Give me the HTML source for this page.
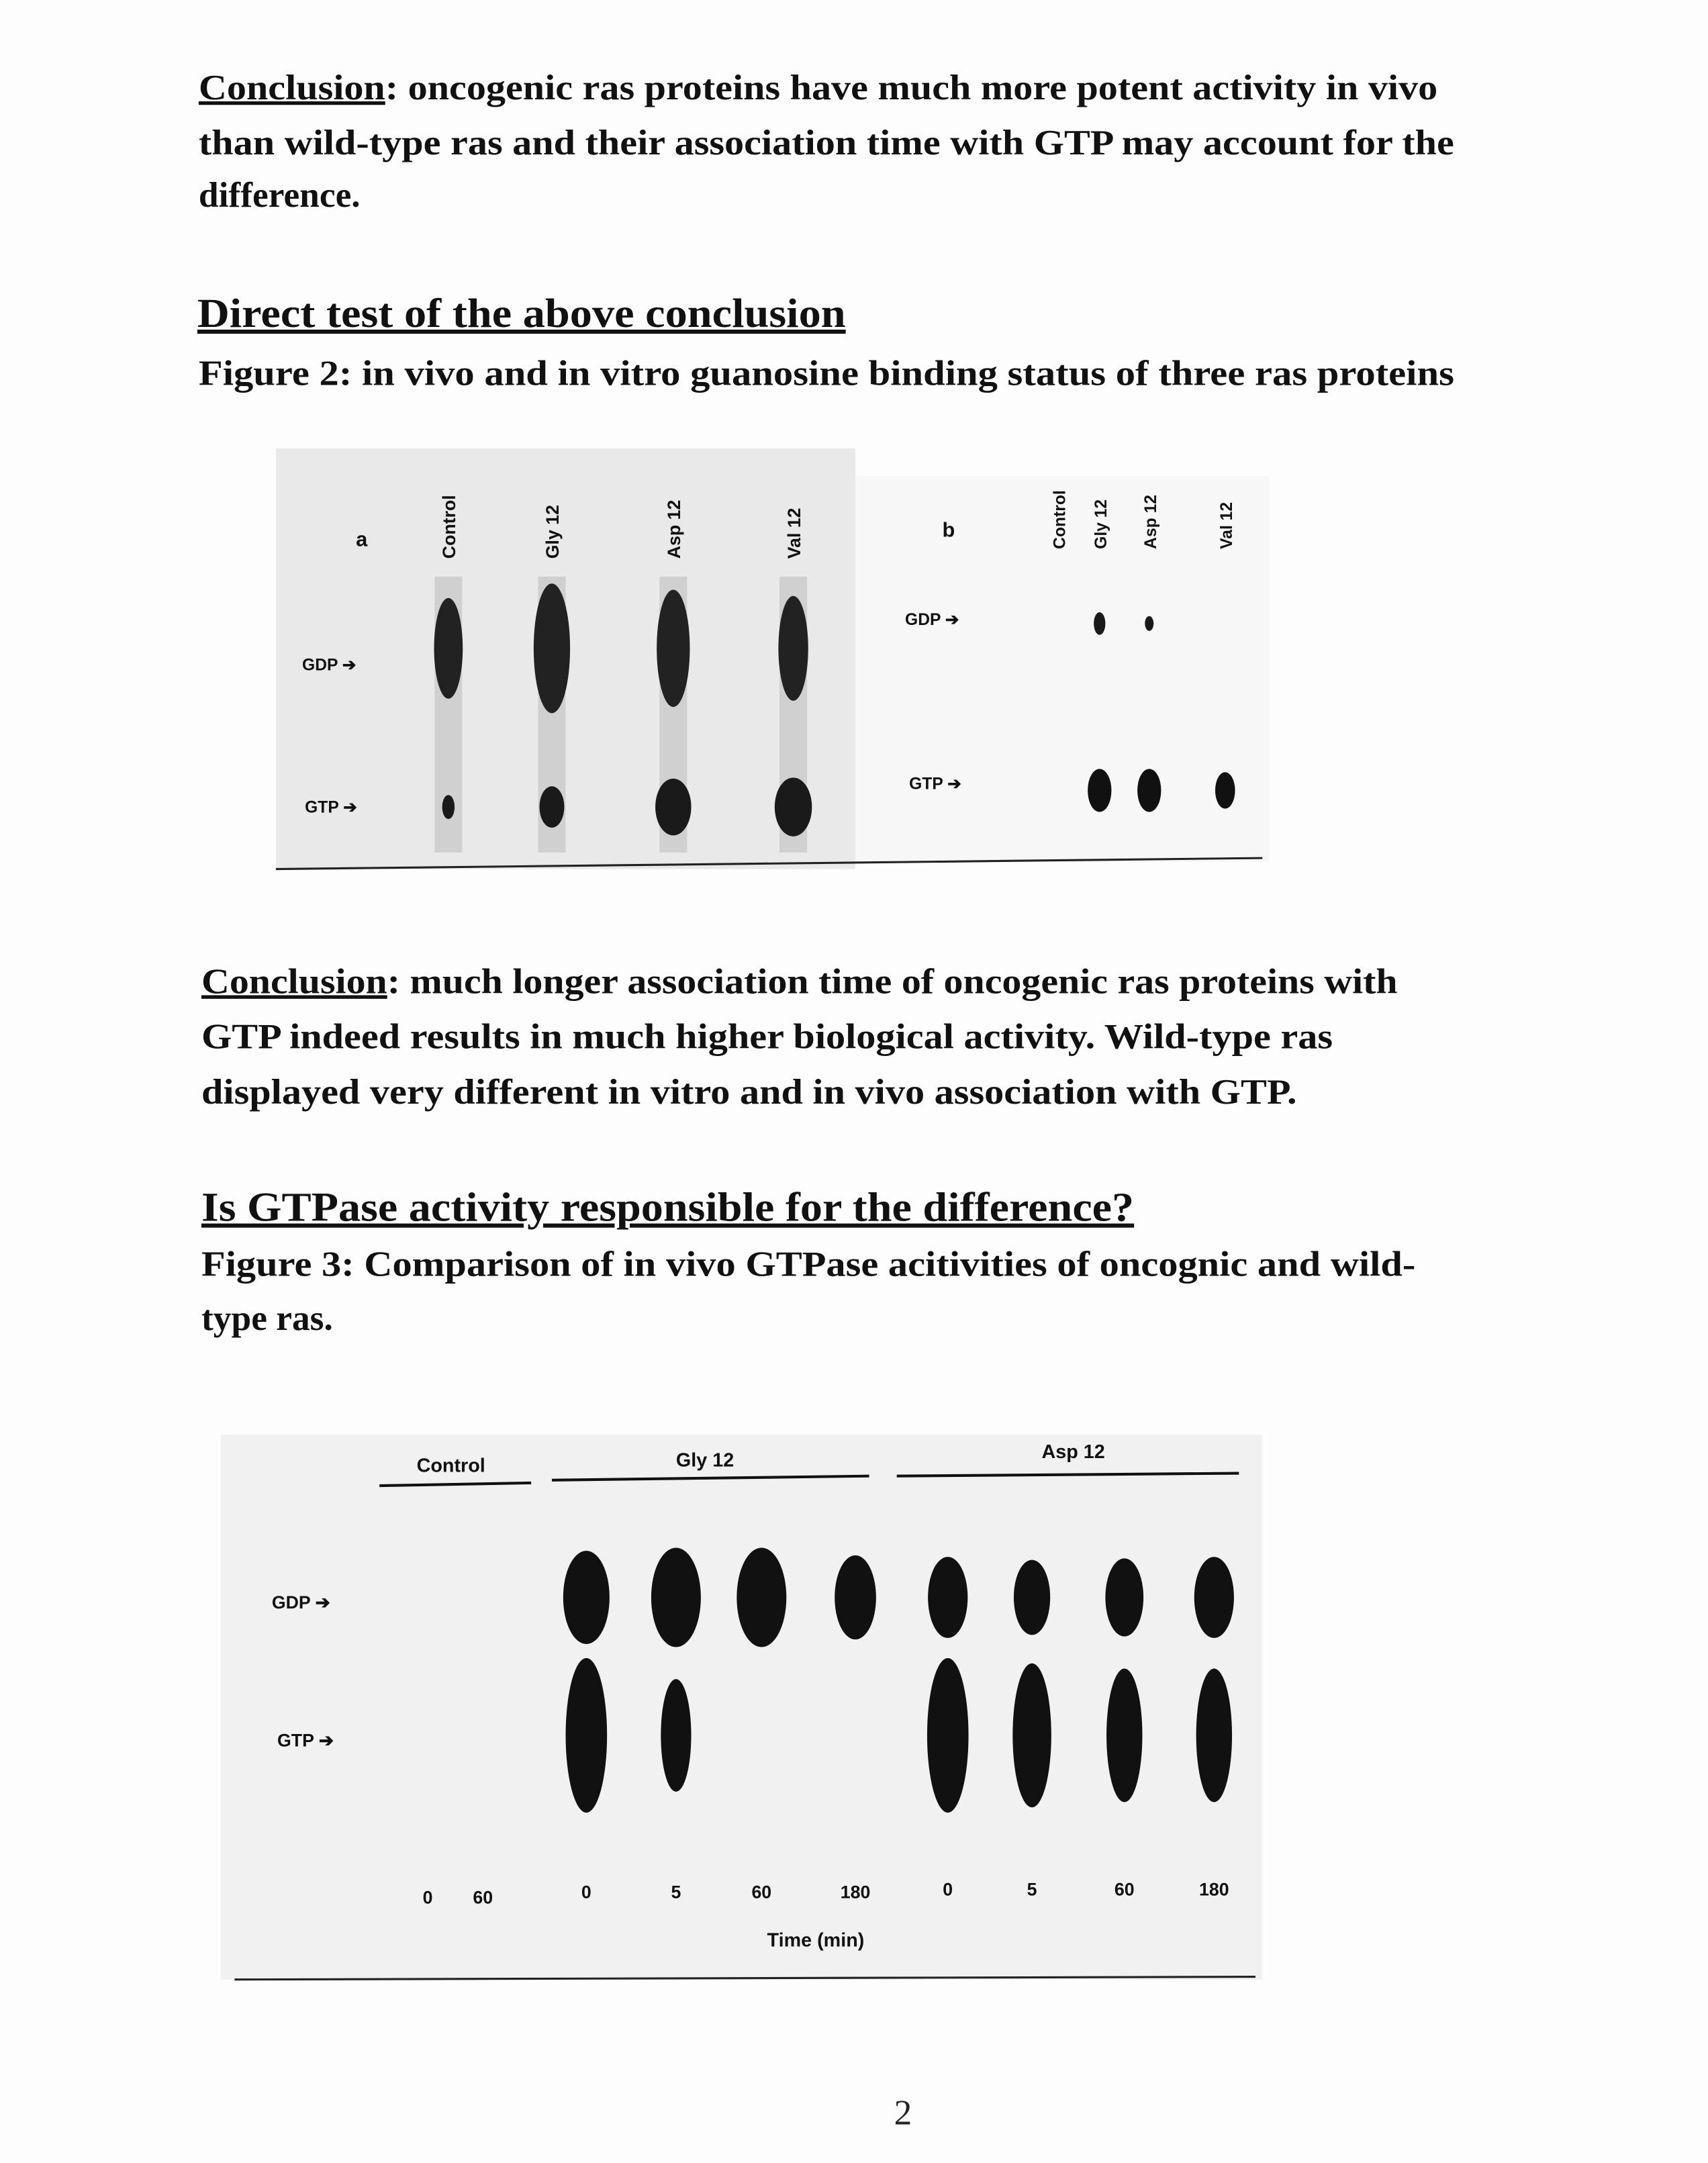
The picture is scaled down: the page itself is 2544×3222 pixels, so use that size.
<!DOCTYPE html>
<html><head><meta charset="utf-8"><style>
html,body{margin:0;padding:0;background:#fff;}
svg{display:block;}
.t{font-family:"Liberation Serif",serif;font-weight:bold;fill:#111;}
.s{font-family:"Liberation Sans",sans-serif;font-weight:bold;fill:#111;}
</style></head><body>
<svg id="page" width="2544" height="3222" viewBox="0 0 1238 1568" preserveAspectRatio="none" xmlns="http://www.w3.org/2000/svg">
<rect width="1238" height="1568" fill="#fdfdfd"/>
<g>
<text class="t" x="144" y="72" font-size="26" textLength="898" lengthAdjust="spacingAndGlyphs"><tspan text-decoration="underline">Conclusion</tspan>: oncogenic ras proteins have much more potent activity in vivo</text>
<text class="t" x="144" y="112" font-size="26" textLength="910" lengthAdjust="spacingAndGlyphs">than wild-type ras and their association time with GTP may account for the</text>
<text class="t" x="144" y="150" font-size="26">difference.</text>
</g>
<text class="t" x="143" y="237" font-size="30" textLength="470" lengthAdjust="spacingAndGlyphs" text-decoration="underline">Direct test of the above conclusion</text>
<text class="t" x="144" y="279" font-size="26" textLength="910" lengthAdjust="spacingAndGlyphs">Figure 2:  in vivo and in vitro guanosine binding status of three ras proteins</text>

<g id="fig2">
<rect x="200" y="325" width="420" height="305" fill="#e9e9e9"/>
<rect x="620" y="345" width="300" height="280" fill="#f7f7f7"/>
<line x1="200" y1="630" x2="915" y2="622" stroke="#222" stroke-width="1.5"/>
<text class="s" x="258" y="396" font-size="15">a</text>
<text class="s" x="683" y="389" font-size="15">b</text>
<text class="s" x="219" y="486" font-size="12">GDP ➔</text>
<text class="s" x="221" y="589" font-size="12">GTP ➔</text>
<text class="s" x="656" y="453" font-size="12">GDP ➔</text>
<text class="s" x="659" y="572" font-size="12">GTP ➔</text>
</g>

<g>
<text class="t" x="146" y="720" font-size="26" textLength="867" lengthAdjust="spacingAndGlyphs"><tspan text-decoration="underline">Conclusion</tspan>: much longer association time of oncogenic ras proteins with</text>
<text class="t" x="146" y="760" font-size="26" textLength="820" lengthAdjust="spacingAndGlyphs">GTP indeed results in much higher biological activity. Wild-type ras</text>
<text class="t" x="146" y="800" font-size="26" textLength="794" lengthAdjust="spacingAndGlyphs">displayed very different in vitro and in vivo association with GTP.</text>
</g>
<text class="t" x="146" y="885" font-size="30" textLength="676" lengthAdjust="spacingAndGlyphs" text-decoration="underline">Is GTPase activity responsible for the difference?</text>
<text class="t" x="146" y="925" font-size="26" textLength="880" lengthAdjust="spacingAndGlyphs">Figure 3:  Comparison of in vivo GTPase acitivities of oncognic and wild-</text>
<text class="t" x="146" y="964" font-size="26">type ras.</text>

<g id="fig3">
<rect x="160" y="1040" width="755" height="395" fill="#f1f1f1"/>
<line x1="170" y1="1435" x2="910" y2="1433" stroke="#222" stroke-width="1.5"/>
<text class="s" x="302" y="1067" font-size="14">Control</text>
<text class="s" x="490" y="1063" font-size="14">Gly 12</text>
<text class="s" x="755" y="1057" font-size="14">Asp 12</text>
<line x1="275" y1="1077" x2="385" y2="1075" stroke="#111" stroke-width="2"/>
<line x1="400" y1="1073" x2="630" y2="1070" stroke="#111" stroke-width="2"/>
<line x1="650" y1="1070" x2="898" y2="1068" stroke="#111" stroke-width="2"/>
<text class="s" x="197" y="1166" font-size="13">GDP ➔</text>
<text class="s" x="201" y="1266" font-size="13">GTP ➔</text>
<text class="s" x="556" y="1411" font-size="14">Time (min)</text>
</g>
<text x="648" y="1540" font-size="26" font-family="Liberation Serif, serif" fill="#222">2</text>
</svg>
<script>
const NS="http://www.w3.org/2000/svg";
// Figure 2 lanes
const fig2aLanes=["Control","Gly 12","Asp 12","Val 12"];
const fig2aX=[325,400,488,575];
const fig2aGDP=[0.55,0.9,0.75,0.6];
const fig2aGTP=[0.05,0.5,0.9,0.95];
const fig2bLanes=["Control","Gly 12","Asp 12","Val 12"];
const fig2bX=[767,797,833,888];
const fig2bGDP=[0,0.4,0.05,0];
const fig2bGTP=[0,0.8,0.8,0.6];
// Figure 3
const fig3Times=["0","60","0","5","60","180","0","5","60","180"];
const fig3X=[310,350,425,490,552,620,687,748,815,880];
const fig3GDP=[0,0,0.9,1,1,0.75,0.7,0.6,0.65,0.7];
const fig3GTP=[0,0,1,0.6,0,0,1,0.9,0.8,0.8];
function ell(parent,cx,cy,rx,ry,fill,name){
  const e=document.createElementNS(NS,"ellipse");
  e.setAttribute("cx",cx);e.setAttribute("cy",cy);e.setAttribute("rx",rx);e.setAttribute("ry",ry);e.setAttribute("fill",fill);
  
  
  parent.appendChild(e);
}
function txt(parent,x,y,s,size,rot,name){
  const t=document.createElementNS(NS,"text");
  t.setAttribute("class","s");t.setAttribute("font-size",size);
  if(rot){t.setAttribute("transform","translate("+x+","+y+") rotate(-90)");}
  else{t.setAttribute("x",x);t.setAttribute("y",y);t.setAttribute("text-anchor","middle");}
  t.textContent=s;
  
  
  parent.appendChild(t);
}
const f2=document.getElementById("fig2"), f3=document.getElementById("fig3");
fig2aLanes.forEach((l,i)=>{
  const x=fig2aX[i];
  txt(f2,x+5,405,l,13,true,"lane-label");
  const st=document.createElementNS(NS,"rect");
  st.setAttribute("x",x-10);st.setAttribute("y",418);st.setAttribute("width",20);st.setAttribute("height",200);st.setAttribute("fill","#d0d0d0");
  
  
  f2.appendChild(st);
  const g=fig2aGDP[i]; if(g>0) ell(f2,x,470,6+8*g,20+30*g,"#222","gdp-spot");
  const p=fig2aGTP[i]; if(p>0) ell(f2,x,585,4+10*p,8+14*p,"#1a1a1a","gtp-spot");
});
fig2bLanes.forEach((l,i)=>{
  const x=fig2bX[i];
  txt(f2,x+5,398,l,12,true,"lane-label");
  const g=fig2bGDP[i]; if(g>0) ell(f2,x,452,3+3*g,5+8*g,"#1a1a1a","gdp-spot");
  const p=fig2bGTP[i]; if(p>0) ell(f2,x,573,3+7*p,6+12*p,"#111","gtp-spot");
});
fig3Times.forEach((t,i)=>{
  const x=fig3X[i];
  txt(f3,x,1380-(i>1?(i>5?6:4):0),t,13,false,"time-label");
  const g=fig3GDP[i]; if(g>0) ell(f3,x,1158,6+12*g,14+22*g,"#111","gdp-spot");
  const p=fig3GTP[i]; if(p>0) ell(f3,x,1258,5+10*p,18+38*p,"#111","gtp-spot");
});
</script>
</body></html>
